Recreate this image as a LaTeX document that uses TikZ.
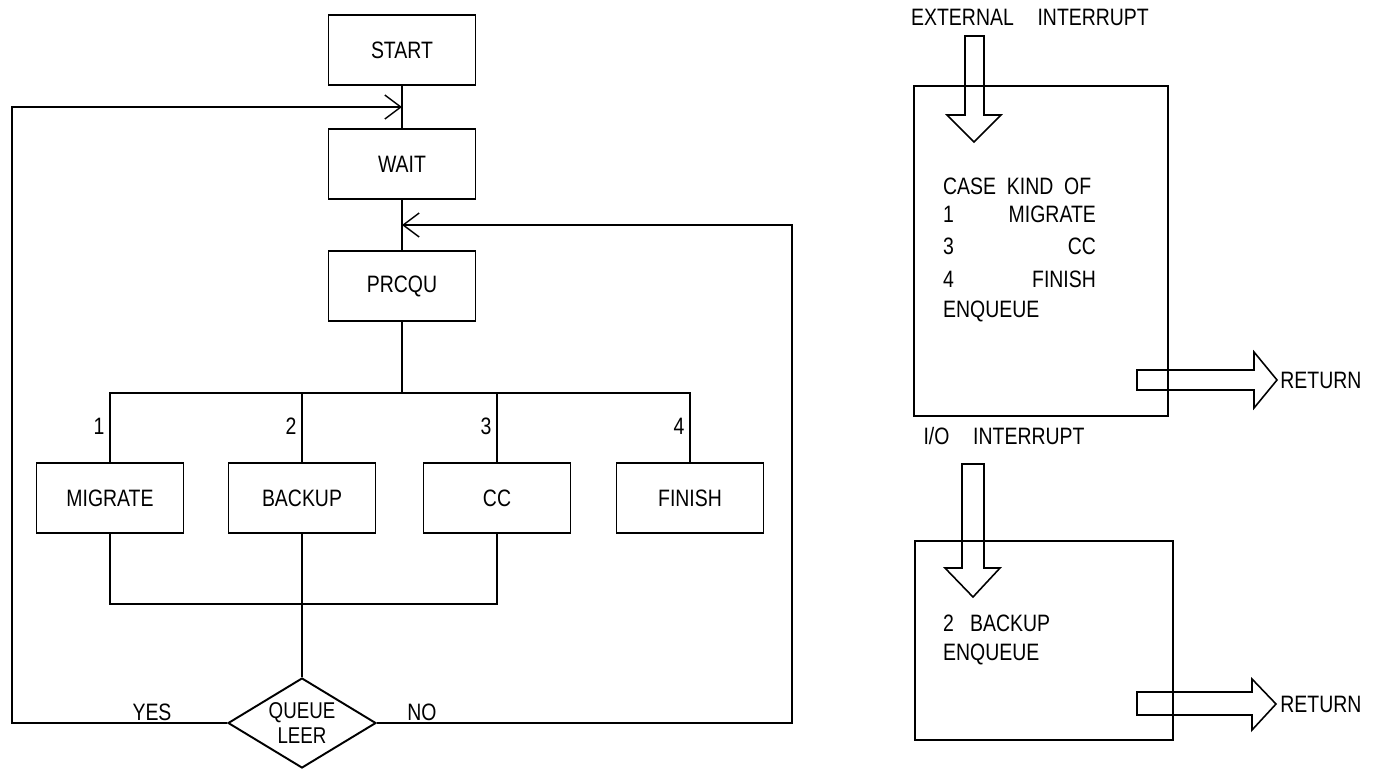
\documentclass[tikz,border=0pt]{standalone}
\usepackage{fontspec}
\setmainfont{Liberation Sans}[FakeStretch=0.82]
\usetikzlibrary{arrows.meta,calc,shapes.geometric}
\tikzset{proc/.style={draw,line width=1.1pt,minimum width=2.94cm,minimum height=1.4cm,font=\fontsize{13.5}{15}\selectfont},
decide/.style={draw,diamond,line width=1.1pt,inner sep=0pt,aspect=1.64,minimum width=2.96cm,minimum height=1.8cm,align=center,font=\fontsize{13}{14}\selectfont},
wire/.style={draw,line width=0.8pt},
back/.style={wire,-{Straight Barb[length=3.2mm,width=4.8mm]}},
lab/.style={font=\fontsize{13.5}{15}\selectfont,inner sep=1pt},
head/.style={font=\fontsize{13.5}{16}\selectfont,inner sep=0pt},
block/.style={draw,line width=0.9pt,line join=miter},
panel/.style={draw,line width=1.1pt}}

\begin{document}
\begin{tikzpicture}[x=0.02cm,y=-0.02cm]
\useasboundingbox (0,0) rectangle (1382,768);
% main loop
\node[proc] (start) at (402,50) {START};
\node[proc] (wait) at (402,164) {WAIT};
\node[proc] (prcqu) at (402,286) {PRCQU};
\foreach \n/\x/\lab in {migrate/110/MIGRATE,backup/302/BACKUP,cc/497/CC,finish/690/FINISH}{\node[proc] (\n) at (\x,498) {\lab};}
\node[decide] (queue) at (302,723) {QUEUE\\LEER};
\coordinate (j1) at ($(start.south)!.5!(wait.north)$);
\coordinate (j2) at ($(wait.south)!.5!(prcqu.north)$);
\coordinate (bus) at (402,393);
\coordinate (mrg) at (302,604);
\path (j1) ++(-390,0) coordinate (wl);
\path (j2) ++(390,0) coordinate (wr);
\draw[wire] (start) -- (wait);
\draw[wire] (wait) -- (prcqu);
\draw[wire] (prcqu) -- (bus);
\foreach \n in {migrate,backup,cc,finish}{\draw[wire] (bus) -| (\n.north);}
\draw[wire] (migrate.south) |- (mrg) -| (cc.south);
\draw[wire] (backup) -- (queue);
\draw[back] (queue.west) -| (wl) -- (j1);
\draw[back] (queue.east) -| (wr) -- (j2);
\foreach \n/\lab in {migrate/1,backup/2,cc/3,finish/4}{\node[lab,left=2pt] (num\lab) at ($(\n.north)+(0,-36)$) {\lab};}
\node[lab] (yes) at (152,712) {YES};
\node[lab] (no) at (422,712) {NO};
% external interrupt
\node[head] (ext) at (1030,17) {EXTERNAL\quad INTERRUPT};
\draw[panel] (914,86) rectangle (1168,416);
\draw[block] (965,36) -- (984,36) -- (984,115) -- (1001,115) -- (974,142) -- (947,115) -- (965,115) -- cycle;
\draw[block] (1137,370) -- (1254,370) -- (1254,352) -- (1277,380) -- (1254,408) -- (1254,390) -- (1137,390) -- cycle;
\node[head,anchor=west] (ret1) at (1280,380) {RETURN};
\node[lab,anchor=west] (case) at (941,186) {CASE\ \ KIND\ \ OF};
\foreach \y/\k/\w in {214/1/MIGRATE,246/3/CC,279/4/FINISH}{\node[lab,anchor=west] (k\k) at (941,\y) {\k}; \node[lab,anchor=east] (w\k) at (1098,\y) {\w};}
\node[lab,anchor=west] (enq1) at (941,311) {ENQUEUE};
% i/o interrupt
\node[head] (io) at (1004,436) {I/O\quad INTERRUPT};
\draw[panel] (915,541) rectangle (1173,740);
\draw[block] (962,464) -- (984,464) -- (984,568) -- (1000,568) -- (973,597) -- (945,568) -- (962,568) -- cycle;
\draw[block] (1137,692) -- (1252,692) -- (1252,679) -- (1276,704) -- (1252,730) -- (1252,715) -- (1137,715) -- cycle;
\node[head,anchor=west] (ret2) at (1280,704) {RETURN};
\node[lab,anchor=west] (bk) at (941,623) {2\ \ \ BACKUP};
\node[lab,anchor=west] (enq2) at (941,654) {ENQUEUE};
\end{tikzpicture}
\end{document}
